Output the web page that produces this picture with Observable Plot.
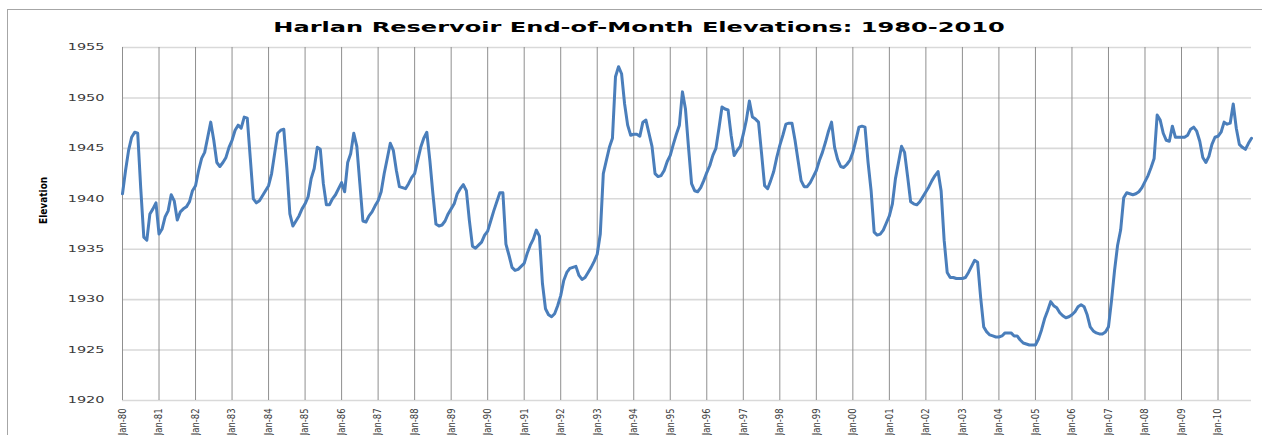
<!DOCTYPE html>
<html>
<head>
<meta charset="utf-8">
<script src="https://cdn.jsdelivr.net/npm/d3@7"></script>
<script src="https://cdn.jsdelivr.net/npm/@observablehq/plot@0.6"></script>
<style>
  body { margin: 0; background: #fff; }
  #wrap { position: relative; width: 1262px; height: 435px; overflow: hidden; }
  #border { position: absolute; left: 7px; top: 9px; width: 1300px; height: 500px;
            border-left: 1px solid #a6a6a6; border-top: 1px solid #a6a6a6; pointer-events: none; }
</style>
</head>
<body>
<div id="wrap"></div>
<script>
const title = "Harlan Reservoir End-of-Month Elevations: 1980-2010";
const yLabel = "Elevation";
const yTicks = [1920, 1925, 1930, 1935, 1940, 1945, 1950, 1955];
const tickLabels = ["Jan-80","Jan-81","Jan-82","Jan-83","Jan-84","Jan-85","Jan-86","Jan-87","Jan-88","Jan-89",
  "Jan-90","Jan-91","Jan-92","Jan-93","Jan-94","Jan-95","Jan-96","Jan-97","Jan-98","Jan-99",
  "Jan-00","Jan-01","Jan-02","Jan-03","Jan-04","Jan-05","Jan-06","Jan-07","Jan-08","Jan-09","Jan-10"];

// End-of-month elevations, Jan-80 .. Dec-10 (12 values per row = one year)
const elev1980s = [
  1940.5, 1942.8, 1944.8, 1946.1, 1946.6, 1946.5, 1941.0, 1936.2, 1935.9, 1938.5, 1939.0, 1939.6,
  1936.5, 1937.0, 1938.2, 1938.8, 1940.4, 1939.8, 1937.9, 1938.7, 1939.0, 1939.2, 1939.7, 1940.8,
  1941.3, 1942.8, 1944.0, 1944.6, 1946.1, 1947.6, 1945.8, 1943.6, 1943.2, 1943.6, 1944.1, 1945.1,
  1945.8, 1946.8, 1947.3, 1947.0, 1948.1, 1948.0, 1944.0, 1940.0, 1939.6, 1939.8, 1940.3, 1940.8,
  1941.3, 1942.5, 1944.5, 1946.5, 1946.8, 1946.9, 1943.1, 1938.5, 1937.3, 1937.8, 1938.3, 1939.0,
  1939.5, 1940.2, 1942.0, 1943.0, 1945.1, 1944.9, 1941.5, 1939.4, 1939.4, 1940.0, 1940.4, 1941.0,
  1941.6, 1940.7, 1943.6, 1944.5, 1946.5, 1945.2, 1941.5, 1937.8, 1937.7, 1938.3, 1938.7, 1939.3,
  1939.8, 1940.7, 1942.5, 1944.0, 1945.5, 1944.8, 1942.8, 1941.2, 1941.1, 1941.0, 1941.5, 1942.1,
  1942.5, 1943.8, 1945.1, 1946.0, 1946.6, 1943.8, 1940.5, 1937.5, 1937.3, 1937.4, 1937.8, 1938.5,
  1939.0, 1939.5, 1940.5, 1941.0, 1941.4, 1940.8, 1937.8, 1935.3, 1935.1, 1935.4, 1935.7, 1936.4
];
const elev1990s = [
  1936.8, 1937.8, 1938.8, 1939.7, 1940.6, 1940.6, 1935.5, 1934.4, 1933.2, 1932.9, 1933.0, 1933.3,
  1933.6, 1934.6, 1935.4, 1936.0, 1936.9, 1936.3, 1931.6, 1929.1, 1928.5, 1928.3, 1928.6, 1929.4,
  1930.4, 1931.9, 1932.7, 1933.1, 1933.2, 1933.3, 1932.4, 1932.0, 1932.2, 1932.7, 1933.2, 1933.8,
  1934.5, 1936.5, 1942.5, 1943.8, 1945.1, 1946.0, 1952.1, 1953.1, 1952.4, 1949.4, 1947.3, 1946.3,
  1946.4, 1946.4, 1946.2, 1947.6, 1947.8, 1946.5, 1945.2, 1942.5, 1942.2, 1942.3, 1942.8, 1943.7,
  1944.3, 1945.4, 1946.4, 1947.3, 1950.6, 1948.9, 1945.1, 1941.5, 1940.8, 1940.7, 1941.1, 1941.8,
  1942.6, 1943.3, 1944.3, 1945.0, 1947.0, 1949.1, 1948.9, 1948.8, 1946.3, 1944.3, 1944.8, 1945.2,
  1946.4, 1947.8, 1949.7, 1948.1, 1947.9, 1947.6, 1944.5, 1941.3, 1941.0, 1941.8, 1942.7, 1944.1,
  1945.3, 1946.3, 1947.4, 1947.5, 1947.5, 1945.8, 1943.8, 1941.8, 1941.2, 1941.2, 1941.6, 1942.2,
  1942.8, 1943.8, 1944.6, 1945.6, 1946.7, 1947.6, 1945.1, 1943.9, 1943.2, 1943.1, 1943.4, 1943.8
];
const elev2000s = [
  1944.6, 1945.8, 1947.1, 1947.2, 1947.1, 1943.6, 1940.8, 1936.7, 1936.4, 1936.5, 1936.9, 1937.6,
  1938.3, 1939.5, 1942.0, 1943.6, 1945.2, 1944.6, 1942.2, 1939.7, 1939.5, 1939.4, 1939.7, 1940.2,
  1940.7, 1941.2, 1941.8, 1942.3, 1942.7, 1940.8, 1935.9, 1932.7, 1932.2, 1932.2, 1932.1, 1932.1,
  1932.1, 1932.2, 1932.7, 1933.3, 1933.9, 1933.7, 1930.2, 1927.3, 1926.8, 1926.5, 1926.4, 1926.3,
  1926.3, 1926.4, 1926.7, 1926.7, 1926.7, 1926.4, 1926.4, 1926.0, 1925.7, 1925.6, 1925.5, 1925.5,
  1925.5, 1926.1, 1927.0, 1928.1, 1928.9, 1929.8, 1929.4, 1929.2, 1928.7, 1928.4, 1928.2, 1928.3,
  1928.5, 1928.8, 1929.3, 1929.5, 1929.3, 1928.5, 1927.3, 1926.9, 1926.7, 1926.6, 1926.6, 1926.8,
  1927.3, 1929.9, 1932.9, 1935.4, 1936.9, 1940.1, 1940.6, 1940.5, 1940.4, 1940.5, 1940.7, 1941.1,
  1941.7, 1942.3, 1943.1, 1944.0, 1948.3, 1947.8, 1946.5, 1945.8, 1945.7, 1947.2, 1946.1, 1946.1,
  1946.1, 1946.1, 1946.3, 1946.9, 1947.1, 1946.7, 1945.7, 1944.1, 1943.6, 1944.2, 1945.4, 1946.1
];
const elev2010 = [
  1946.2, 1946.6, 1947.6, 1947.4, 1947.5, 1949.4, 1947.0, 1945.4, 1945.1, 1944.9, 1945.5, 1946.0
];

const values = [...elev1980s, ...elev1990s, ...elev2000s, ...elev2010];
const data = values.map((v, i) => ({i, v}));
const tickIdx = tickLabels.map((_, k) => k * 12);
const fmt = (i) => tickLabels[i / 12];
const font = "'DejaVu Sans', sans-serif";

const chart = Plot.plot({
  width: 1262,
  height: 435,
  marginLeft: 122,
  marginRight: 11,
  marginTop: 47,
  marginBottom: 35,
  x: {domain: [0, values.length - 1], axis: null},
  y: {domain: [1920, 1955], axis: null},
  marks: [
    Plot.gridY(yTicks, {stroke: "#d9d9d9", strokeOpacity: 1, strokeWidth: 1.6}),
    Plot.gridX(tickIdx, {stroke: "#8f8f8f", strokeOpacity: 1, strokeWidth: 1}),
    // y tick labels
    Plot.text(yTicks, {y: (d) => d, frameAnchor: "left", text: (d) => String(d), textAnchor: "end",
      dx: -18, fontSize: 8.5, fontFamily: font, fill: "#3a3a3a"}),
    // x tick labels (rotated)
    Plot.text(tickIdx, {x: (d) => d, frameAnchor: "bottom", text: fmt, rotate: -90, textAnchor: "end",
      lineAnchor: "middle", dy: 8, fontSize: 10.5, fontFamily: font, fill: "#3a3a3a"}),
    Plot.lineY(data, {x: "i", y: "v", stroke: "#4a7ebb", strokeWidth: 3, strokeLinejoin: "round"}),
    Plot.text([title], {frameAnchor: "top", dx: -48, dy: -20, lineAnchor: "middle",
      fontSize: 14, fontWeight: "bold", fontFamily: font, fill: "#000"}),
    Plot.text([yLabel], {frameAnchor: "left", dx: -79, rotate: -90, fontSize: 10, fontWeight: "bold",
      fontFamily: "'Liberation Sans Narrow', 'DejaVu Sans Condensed', 'Arial Narrow', sans-serif", fill: "#000"})
  ]
});

document.getElementById("wrap").appendChild(chart);
const b = document.createElement("div");
b.id = "border";
document.getElementById("wrap").appendChild(b);

// stretch / compress glyphs along the text direction (the reference text is set wide)
function stretch(filterFn, k) {
  const svg = chart.tagName.toLowerCase() === "svg" ? chart : chart.querySelector("svg");
  svg.querySelectorAll("text").forEach((el) => {
    if (!filterFn(el.textContent)) return;
    const len = el.getComputedTextLength();
    el.setAttribute("textLength", (len * k).toFixed(1));
    el.setAttribute("lengthAdjust", "spacingAndGlyphs");
  });
}
const yTickStrings = yTicks.map(String);
stretch((s) => s === title, 1.72);
stretch((s) => yTickStrings.includes(s), 1.7);
stretch((s) => tickLabels.includes(s), 0.8);
</script>
</body>
</html>
